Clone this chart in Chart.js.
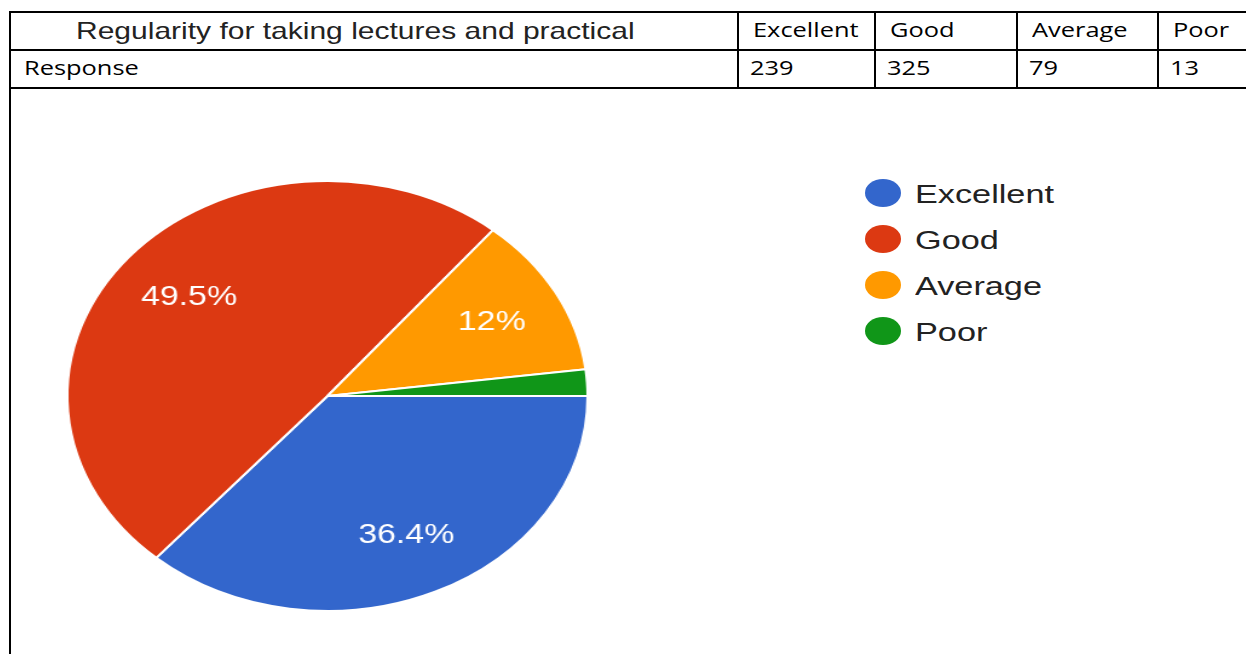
<!DOCTYPE html>
<html>
<head>
<meta charset="utf-8">
<script src="https://cdn.jsdelivr.net/npm/chart.js@4/dist/chart.umd.min.js"></script>
<style>
  html, body { margin: 0; padding: 0; background: #fff; overflow: hidden; }
  body { width: 1246px; height: 654px; position: relative; }
  .line { position: absolute; background: #000; }
  .txt { position: absolute; white-space: nowrap; transform-origin: left top; }
  .cell { font-family: "Open Sans", sans-serif; font-size: 20px; line-height: 20px; color: #000; transform: scaleX(1.27); }
  .title { font-family: "Liberation Sans", Arial, sans-serif; font-size: 24px; line-height: 24px; color: #222; transform: scaleX(1.25); }
  #pieWrap { position: absolute; left: 54px; top: 170px; transform: scaleX(1.21); transform-origin: left top; }
  #legend { position: absolute; left: 865px; top: 179px; }
  .item { position: absolute; left: 0; height: 28px; }
  .dot { position: absolute; left: 0; top: 0; width: 36px; height: 28px; border-radius: 50%; }
  .lab { position: absolute; left: 50px; top: 3px; font-family: "Liberation Sans", Arial, sans-serif; font-size: 25px; line-height: 25px; color: #222; white-space: nowrap; transform: scaleX(1.37); transform-origin: left top; }
</style>
</head>
<body>
<div id="table"></div>
<div id="pieWrap"><canvas id="canvasPie" width="452" height="452"></canvas></div>
<div id="legend"></div>
<script>
// data
var tableTitle = 'Regularity for taking lectures and practical';
var rowLabel = 'Response';
var categories = ['Excellent', 'Good', 'Average', 'Poor'];
var responses = [239, 325, 79, 13];
var colors = ['#3366cc', '#dc3912', '#ff9900', '#109618'];

// table grid
var table = document.getElementById('table');
function line(x, y, w, h) {
  var d = document.createElement('div');
  d.className = 'line';
  d.style.left = x + 'px'; d.style.top = y + 'px';
  d.style.width = w + 'px'; d.style.height = h + 'px';
  table.appendChild(d);
}
function text(cls, str, x, y) {
  var s = document.createElement('div');
  s.className = 'txt ' + cls;
  s.style.left = x + 'px'; s.style.top = y + 'px';
  s.textContent = str;
  table.appendChild(s);
}
var rowTops = [11, 49, 87];
var colLines = [737, 874, 1016, 1157];
rowTops.forEach(function(y) { line(9, y, 1260, 2); });
line(9, 11, 2, 700);
colLines.forEach(function(x) { line(x, 11, 2, 78); });

text('title', tableTitle, 76, 19);
text('cell', rowLabel, 24, 58);
categories.forEach(function(c, i) {
  text('cell', c, colLines[i] + 16, 20);
  text('cell', String(responses[i]), colLines[i] + 13, 58);
});

// percentage labels inside the slices
var sliceLabels = {
  id: 'sliceLabels',
  afterDatasetsDraw: function(chart) {
    var ctx = chart.ctx;
    var data = chart.data.datasets[0].data;
    var total = data.reduce(function(a, b) { return a + b; }, 0);
    chart.getDatasetMeta(0).data.forEach(function(arc, i) {
      var pct = data[i] / total * 100;
      if (pct < 5) return;
      var txt = parseFloat(pct.toFixed(1)) + '%';
      if (Math.abs(pct - Math.round(pct)) < 0.1) txt = Math.round(pct) + '%';
      var mid = (arc.startAngle + arc.endAngle) / 2;
      var r = arc.outerRadius * 0.71;
      ctx.save();
      ctx.fillStyle = '#ffffff';
      ctx.font = '28px "Liberation Sans", Arial, sans-serif';
      ctx.textAlign = 'center';
      ctx.textBaseline = 'middle';
      ctx.fillText(txt, arc.x + Math.cos(mid) * r + 2, arc.y + Math.sin(mid) * r);
      ctx.restore();
    });
  }
};

var ctx = document.getElementById('canvasPie').getContext('2d');
var pieChart = new Chart(ctx, {
  type: 'pie',
  data: {
    labels: categories,
    datasets: [{
      data: responses,
      backgroundColor: colors,
      borderColor: '#ffffff',
      borderWidth: 2
    }]
  },
  options: {
    responsive: false,
    animation: false,
    devicePixelRatio: 1,
    events: [],
    rotation: 90,
    layout: { padding: 10 },
    plugins: {
      legend: { display: false },
      tooltip: { enabled: false }
    }
  },
  plugins: [sliceLabels]
});

// html legend from the chart's own legend items
var legend = document.getElementById('legend');
pieChart.options.plugins.legend.labels.generateLabels(pieChart).forEach(function(item, i) {
  var row = document.createElement('div');
  row.className = 'item';
  row.style.top = (i * 46) + 'px';
  var dot = document.createElement('div');
  dot.className = 'dot';
  dot.style.background = item.fillStyle;
  var lab = document.createElement('div');
  lab.className = 'lab';
  lab.textContent = item.text;
  row.appendChild(dot);
  row.appendChild(lab);
  legend.appendChild(row);
});
</script>
</body>
</html>
